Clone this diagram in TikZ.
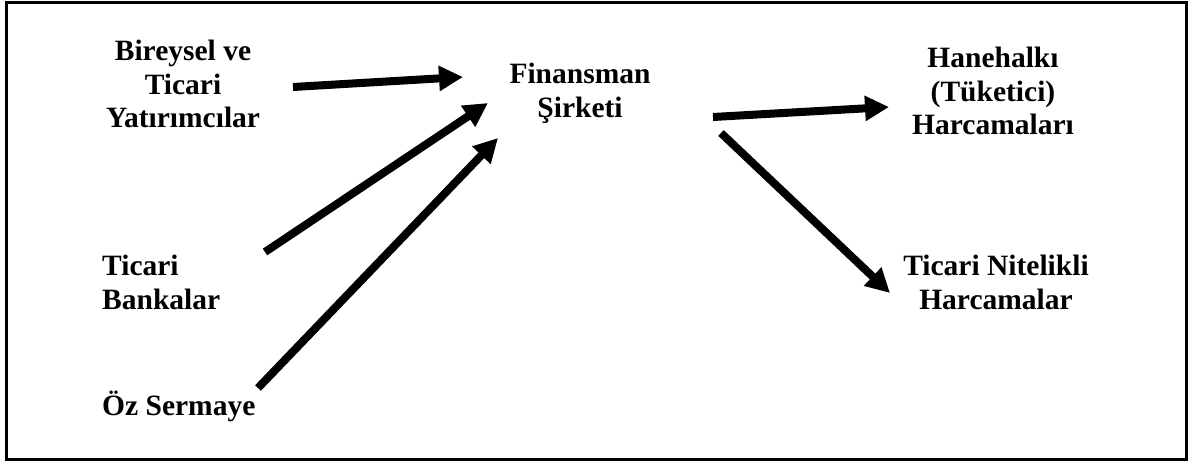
\documentclass[tikz,border=0pt]{standalone}
\usepackage{fontspec}
\setmainfont{Liberation Serif}
\usetikzlibrary{arrows.meta}

\begin{document}
\begin{tikzpicture}[x=1pt, y=-1pt,
  label/.style={inner sep=0pt, font=\fontsize{29.5}{33.5}\selectfont\bfseries},
  flow/.style={line width=8pt, line cap=butt,
    -{Triangle[length=24pt, width=24pt]}},
  frame/.style={line width=3pt}]

  % page and outer frame
  \useasboundingbox (0,0) rectangle (1191,461);
  \draw[frame] (6.5,2) rectangle (1186.5,459);

  % sources
  \node[label, align=center, anchor=north] (inv) at (183,40)
    {Bireysel ve\\Ticari\\Yatırımcılar};
  \node[label, align=left, anchor=north west] (banks) at (102,255)
    {Ticari\\Bankalar};
  \node[label, anchor=base west] (equity) at (102,415) {Öz Sermaye};

  % the finance company
  \node[label, align=center, anchor=north] (fin) at (580,63)
    {Finansman\\Şirketi};

  % uses of funds
  \node[label, align=center, anchor=north] (house) at (993,47)
    {Hanehalkı\\(Tüketici)\\Harcamaları};
  \node[label, align=center, anchor=north] (comm) at (996,255)
    {Ticari Nitelikli\\Harcamalar};

  % arrow end points
  \coordinate (invOut)  at (293,87);
  \coordinate (finInA)  at (463,77);
  \coordinate (bankOut) at (265,252);
  \coordinate (finInB)  at (488,103);
  \coordinate (eqOut)   at (258,388);
  \coordinate (finInC)  at (498,138);
  \coordinate (finOutA) at (713,117);
  \coordinate (houseIn) at (889,107);
  \coordinate (finOutB) at (721,133);
  \coordinate (commIn)  at (890,293);

  \draw[flow] (invOut)  -- (finInA);
  \draw[flow] (bankOut) -- (finInB);
  \draw[flow] (eqOut)   -- (finInC);
  \draw[flow] (finOutA) -- (houseIn);
  \draw[flow] (finOutB) -- (commIn);
\end{tikzpicture}
\end{document}
